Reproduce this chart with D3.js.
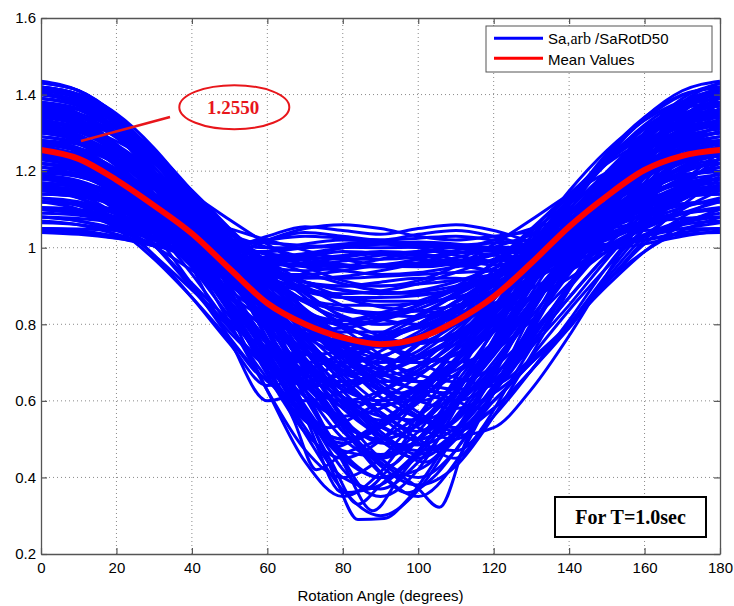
<!DOCTYPE html>
<html>
<head>
<meta charset="utf-8">
<script src="https://cdn.jsdelivr.net/npm/d3@7"></script>
<style>
  html, body { margin: 0; padding: 0; background: #ffffff; }
  svg { display: block; }
</style>
</head>
<body>
<svg id="chart" width="734" height="606"></svg>
<script>
// ---------------- DATA ----------------
const angles = [0,10,20,30,40,50,60,70,80,90,100,110,120,130,140,150,160,170,180];

// Sa,arb / SaRotD50 curves (values at the angles above)
const blueSeries = [
  [1.435,1.41,1.34,1.235,1.11,0.97,0.82,0.66,0.52,0.46,0.52,0.66,0.82,0.97,1.11,1.235,1.34,1.41,1.435],
  [1.42,1.398,1.335,1.24,1.12,0.985,0.845,0.705,0.595,0.55,0.595,0.705,0.845,0.985,1.12,1.24,1.335,1.398,1.42],
  [1.40,1.38,1.321,1.225,1.096,0.939,0.763,0.581,0.421,0.35,0.421,0.581,0.763,0.939,1.096,1.225,1.321,1.38,1.40],
  [1.38,1.363,1.313,1.232,1.125,0.999,0.864,0.735,0.637,0.60,0.637,0.735,0.864,0.999,1.125,1.232,1.313,1.363,1.38],
  [1.36,1.342,1.287,1.199,1.081,0.939,0.784,0.629,0.502,0.45,0.502,0.629,0.784,0.939,1.081,1.199,1.287,1.342,1.36],
  [1.36,1.335,1.265,1.155,1.01,0.842,0.668,0.518,0.45,0.497,0.604,0.738,0.877,1.01,1.128,1.225,1.298,1.344,1.36],
  [1.36,1.344,1.298,1.225,1.128,1.01,0.877,0.738,0.604,0.497,0.45,0.518,0.668,0.842,1.01,1.155,1.265,1.335,1.36],
  [1.33,1.315,1.269,1.197,1.101,0.989,0.871,0.762,0.68,0.65,0.68,0.762,0.871,0.989,1.101,1.197,1.269,1.315,1.33],
  [1.33,1.309,1.251,1.161,1.045,0.915,0.789,0.69,0.65,0.677,0.746,0.838,0.942,1.045,1.139,1.219,1.278,1.317,1.33],
  [1.33,1.317,1.278,1.219,1.139,1.045,0.942,0.838,0.746,0.677,0.65,0.69,0.789,0.915,1.045,1.161,1.251,1.309,1.33],
  [1.30,1.283,1.233,1.153,1.047,0.919,0.781,0.647,0.541,0.50,0.541,0.647,0.781,0.919,1.047,1.153,1.233,1.283,1.30],
  [1.30,1.277,1.213,1.113,0.983,0.833,0.681,0.554,0.50,0.537,0.626,0.741,0.864,0.983,1.089,1.177,1.243,1.285,1.30],
  [1.30,1.285,1.243,1.177,1.089,0.983,0.864,0.741,0.626,0.537,0.50,0.554,0.681,0.833,0.983,1.113,1.213,1.277,1.30],
  [1.27,1.258,1.221,1.162,1.086,0.998,0.908,0.828,0.771,0.75,0.771,0.828,0.908,0.998,1.086,1.162,1.221,1.258,1.27],
  [1.27,1.253,1.206,1.134,1.042,0.942,0.848,0.778,0.75,0.769,0.817,0.884,0.962,1.042,1.116,1.18,1.228,1.259,1.27],
  [1.27,1.259,1.228,1.18,1.116,1.042,0.962,0.884,0.817,0.769,0.75,0.778,0.848,0.942,1.042,1.134,1.206,1.253,1.27],
  [1.24,1.226,1.183,1.115,1.025,0.92,0.809,0.706,0.629,0.60,0.629,0.706,0.809,0.92,1.025,1.115,1.183,1.226,1.24],
  [1.24,1.221,1.166,1.081,0.973,0.851,0.732,0.639,0.60,0.626,0.691,0.778,0.876,0.973,1.061,1.135,1.192,1.227,1.24],
  [1.24,1.227,1.192,1.135,1.061,0.973,0.876,0.778,0.691,0.626,0.60,0.639,0.732,0.851,0.973,1.081,1.166,1.221,1.24],
  [1.24,1.214,1.144,1.038,0.904,0.765,0.651,0.60,0.624,0.678,0.752,0.839,0.929,1.016,1.091,1.152,1.198,1.229,1.24],
  [1.24,1.229,1.198,1.152,1.091,1.016,0.929,0.839,0.752,0.678,0.624,0.60,0.651,0.765,0.904,1.038,1.144,1.214,1.24],
  [1.20,1.19,1.16,1.114,1.053,0.985,0.917,0.857,0.815,0.80,0.815,0.857,0.917,0.985,1.053,1.114,1.16,1.19,1.20],
  [1.20,1.186,1.149,1.091,1.019,0.943,0.872,0.82,0.80,0.814,0.849,0.899,0.958,1.019,1.077,1.128,1.166,1.191,1.20],
  [1.20,1.191,1.166,1.128,1.077,1.019,0.958,0.899,0.849,0.814,0.80,0.82,0.872,0.943,1.019,1.091,1.149,1.186,1.20],
  [1.16,1.149,1.116,1.064,0.996,0.918,0.839,0.768,0.718,0.70,0.718,0.768,0.839,0.918,0.996,1.064,1.116,1.149,1.16],
  [1.16,1.145,1.103,1.039,0.957,0.869,0.786,0.724,0.70,0.716,0.758,0.818,0.886,0.957,1.023,1.08,1.123,1.15,1.16],
  [1.16,1.15,1.123,1.08,1.023,0.957,0.886,0.818,0.758,0.716,0.70,0.724,0.786,0.869,0.957,1.039,1.103,1.145,1.16],
  [1.16,1.14,1.086,1.006,0.907,0.809,0.732,0.70,0.715,0.75,0.80,0.86,0.925,0.989,1.046,1.093,1.128,1.151,1.16],
  [1.16,1.151,1.128,1.093,1.046,0.989,0.925,0.86,0.80,0.75,0.715,0.70,0.732,0.809,0.907,1.006,1.086,1.14,1.16],
  [1.12,1.114,1.095,1.065,1.028,0.986,0.946,0.911,0.888,0.88,0.888,0.911,0.946,0.986,1.028,1.065,1.095,1.114,1.12],
  [1.12,1.112,1.088,1.051,1.007,0.961,0.92,0.891,0.88,0.887,0.906,0.936,0.97,1.007,1.043,1.074,1.099,1.115,1.12],
  [1.12,1.115,1.099,1.074,1.043,1.007,0.97,0.936,0.906,0.887,0.88,0.891,0.92,0.961,1.007,1.051,1.088,1.112,1.12],
  [1.08,1.076,1.066,1.049,1.028,1.006,0.984,0.966,0.954,0.95,0.954,0.966,0.984,1.006,1.028,1.049,1.066,1.076,1.08],
  [1.42,1.40,1.341,1.246,1.118,0.963,0.79,0.614,0.465,0.40,0.465,0.614,0.79,0.963,1.118,1.246,1.341,1.40,1.42],
  [1.40,1.373,1.297,1.177,1.018,0.829,0.627,0.441,0.35,0.414,0.549,0.708,0.869,1.018,1.148,1.254,1.333,1.382,1.40],
  [1.40,1.382,1.333,1.254,1.148,1.018,0.869,0.708,0.549,0.414,0.35,0.441,0.627,0.829,1.018,1.177,1.297,1.373,1.40],
  [1.39,1.37,1.315,1.235,1.135,1.03,0.915,0.81,0.73,0.70,0.73,0.81,0.915,1.03,1.135,1.235,1.315,1.37,1.39],
  [1.35,1.333,1.29,1.225,1.14,1.05,0.96,0.88,0.822,0.80,0.822,0.88,0.96,1.05,1.14,1.225,1.29,1.333,1.35],
  [1.32,1.302,1.248,1.16,1.044,0.902,0.745,0.587,0.456,0.40,0.456,0.587,0.745,0.902,1.044,1.16,1.248,1.302,1.32],
  [1.32,1.295,1.226,1.117,0.973,0.804,0.627,0.472,0.40,0.45,0.561,0.698,0.839,0.973,1.09,1.186,1.259,1.304,1.32],
  [1.32,1.304,1.259,1.186,1.09,0.973,0.839,0.698,0.561,0.45,0.40,0.472,0.627,0.804,0.973,1.117,1.226,1.295,1.32],
  [1.28,1.27,1.242,1.196,1.139,1.073,1.009,0.952,0.914,0.90,0.914,0.952,1.009,1.073,1.139,1.196,1.242,1.27,1.28],
  [1.22,1.205,1.159,1.086,0.988,0.873,0.748,0.628,0.536,0.50,0.536,0.628,0.748,0.873,0.988,1.086,1.159,1.205,1.22],
  [1.22,1.199,1.141,1.049,0.931,0.795,0.658,0.548,0.50,0.532,0.61,0.712,0.823,0.931,1.027,1.108,1.168,1.207,1.22],
  [1.22,1.207,1.168,1.108,1.027,0.931,0.823,0.712,0.61,0.532,0.50,0.548,0.658,0.795,0.931,1.049,1.141,1.199,1.22],
  [1.14,1.135,1.119,1.096,1.066,1.033,1.001,0.974,0.956,0.95,0.956,0.974,1.001,1.033,1.066,1.096,1.119,1.135,1.14],
  [1.14,1.133,1.113,1.085,1.05,1.013,0.981,0.958,0.95,0.955,0.97,0.993,1.02,1.05,1.078,1.103,1.122,1.136,1.14],
  [1.14,1.136,1.122,1.103,1.078,1.05,1.02,0.993,0.97,0.955,0.95,0.958,0.981,1.013,1.05,1.085,1.113,1.133,1.14],
  [1.10,1.091,1.065,1.024,0.971,0.911,0.851,0.799,0.763,0.75,0.763,0.799,0.851,0.911,0.971,1.024,1.065,1.091,1.10],
  [1.10,1.088,1.055,1.004,0.941,0.874,0.812,0.768,0.75,0.762,0.792,0.835,0.887,0.941,0.992,1.036,1.07,1.092,1.10],
  [1.10,1.092,1.07,1.036,0.992,0.941,0.887,0.835,0.792,0.762,0.75,0.768,0.812,0.874,0.941,1.004,1.055,1.088,1.10],
  [1.26,1.242,1.188,1.101,0.984,0.842,0.681,0.515,0.367,0.30,0.367,0.515,0.681,0.842,0.984,1.101,1.188,1.242,1.26],
  [1.18,1.168,1.131,1.072,0.996,0.907,0.815,0.732,0.672,0.65,0.672,0.732,0.815,0.907,0.996,1.072,1.131,1.168,1.18],
  [1.18,1.163,1.116,1.044,0.952,0.85,0.753,0.68,0.65,0.67,0.72,0.79,0.87,0.952,1.026,1.09,1.138,1.169,1.18],
  [1.18,1.169,1.138,1.09,1.026,0.952,0.87,0.79,0.72,0.67,0.65,0.68,0.753,0.85,0.952,1.044,1.116,1.163,1.18],
  [1.18,1.157,1.097,1.007,0.894,0.779,0.689,0.65,0.668,0.71,0.769,0.84,0.915,0.988,1.051,1.104,1.144,1.17,1.18],
  [1.18,1.17,1.144,1.104,1.051,0.988,0.915,0.84,0.769,0.71,0.668,0.65,0.689,0.779,0.894,1.007,1.097,1.157,1.18],
  [1.05,1.049,1.045,1.038,1.029,1.02,1.012,1.006,1.001,1.00,1.001,1.006,1.012,1.02,1.029,1.038,1.045,1.049,1.05],
  [1.07,1.06,1.035,1.005,0.99,1.0,1.03,1.055,1.045,1.035,1.05,1.06,1.045,1.015,0.99,1.0,1.03,1.06,1.07],
  [1.05,1.045,1.03,1.01,0.995,1.0,1.02,1.04,1.03,1.02,1.035,1.045,1.03,1.005,0.99,1.0,1.02,1.04,1.05],
  [1.08,1.07,1.045,1.01,0.98,0.985,1.02,1.05,1.06,1.05,1.03,1.02,1.03,1.04,1.02,1.0,1.03,1.065,1.08],
  [1.04,1.035,1.025,1.01,1.0,1.005,1.02,1.03,1.025,1.02,1.025,1.03,1.02,1.005,0.995,1.005,1.02,1.035,1.04],
  [1.15,1.13,1.07,0.98,0.87,0.75,0.64,0.66,0.70,0.75,0.80,0.86,0.92,0.98,1.03,1.08,1.115,1.14,1.15],
  [1.15,1.14,1.115,1.08,1.03,0.98,0.92,0.86,0.80,0.75,0.70,0.66,0.64,0.75,0.87,0.98,1.07,1.13,1.15],
  [1.12,1.10,1.05,0.97,0.87,0.76,0.66,0.68,0.72,0.76,0.80,0.84,0.88,0.92,0.96,1.0,1.05,1.09,1.12],
  [1.15,1.13,1.09,1.04,0.98,0.91,0.84,0.76,0.67,0.59,0.53,0.50,0.60,0.70,0.80,0.92,1.03,1.10,1.15],
  [1.22,1.20,1.15,1.08,1.0,0.91,0.81,0.71,0.61,0.52,0.46,0.52,0.63,0.74,0.85,0.97,1.08,1.17,1.22],
  [1.18,1.165,1.13,1.08,1.02,0.95,0.88,0.80,0.72,0.65,0.60,0.58,0.62,0.70,0.80,0.91,1.02,1.11,1.18],
  [1.10,1.09,1.06,1.02,0.97,0.92,0.86,0.80,0.74,0.69,0.65,0.63,0.64,0.71,0.80,0.90,0.99,1.06,1.10],
  [1.08,1.07,1.05,1.02,0.98,0.93,0.87,0.80,0.72,0.64,0.57,0.52,0.58,0.68,0.79,0.91,0.99,1.045,1.08],
  [1.13,1.12,1.09,1.05,1.0,0.94,0.87,0.79,0.71,0.63,0.56,0.53,0.60,0.70,0.80,0.91,1.01,1.08,1.13],
  [1.25,1.235,1.19,1.12,1.04,0.95,0.85,0.75,0.65,0.56,0.49,0.47,0.56,0.68,0.81,0.95,1.07,1.17,1.25]
];

// curves with a broad plateau around 90 degrees
const plateauSeries = [
  [1.35,1.33,1.27,1.17,1.06,0.99,0.96,0.95,0.94,0.93,0.935,0.95,0.965,0.99,1.06,1.17,1.27,1.33,1.35],
  [1.31,1.29,1.23,1.14,1.04,0.97,0.93,0.91,0.89,0.88,0.885,0.90,0.93,0.98,1.05,1.15,1.235,1.29,1.31],
  [1.28,1.26,1.20,1.11,1.02,0.97,0.96,0.97,0.98,0.99,0.985,0.97,0.955,0.97,1.03,1.12,1.205,1.26,1.28],
  [1.25,1.235,1.19,1.12,1.04,0.98,0.95,0.94,0.95,0.97,0.99,1.0,0.99,0.99,1.04,1.12,1.19,1.235,1.25],
  [1.22,1.205,1.16,1.09,1.02,0.96,0.92,0.90,0.90,0.91,0.92,0.92,0.91,0.93,0.99,1.08,1.155,1.205,1.22],
  [1.19,1.175,1.135,1.07,1.00,0.95,0.93,0.93,0.94,0.955,0.96,0.955,0.94,0.94,0.98,1.05,1.125,1.175,1.19],
  [1.15,1.14,1.11,1.06,1.01,0.98,0.97,0.98,1.0,1.01,1.0,0.98,0.965,0.97,1.0,1.05,1.10,1.14,1.15],
  [1.12,1.11,1.08,1.04,1.0,0.98,0.99,1.01,1.02,1.015,1.005,1.0,1.0,1.005,1.02,1.05,1.085,1.11,1.12],
  [1.30,1.285,1.235,1.155,1.06,0.97,0.90,0.86,0.84,0.83,0.835,0.85,0.88,0.94,1.03,1.14,1.23,1.28,1.30],
  [1.34,1.32,1.26,1.165,1.06,0.96,0.88,0.83,0.81,0.82,0.85,0.89,0.93,0.98,1.06,1.16,1.26,1.32,1.34],
  [1.37,1.35,1.29,1.19,1.07,0.95,0.86,0.80,0.78,0.78,0.79,0.82,0.87,0.96,1.07,1.19,1.29,1.35,1.37],
  [1.26,1.245,1.195,1.115,1.02,0.93,0.86,0.82,0.81,0.83,0.86,0.895,0.93,0.97,1.03,1.11,1.19,1.245,1.26],
  [1.10,1.095,1.075,1.045,1.01,0.98,0.96,0.955,0.965,0.98,0.99,0.99,0.98,0.975,0.99,1.02,1.06,1.09,1.10],
  [1.17,1.16,1.12,1.07,1.01,0.96,0.93,0.92,0.925,0.94,0.96,0.985,1.0,1.0,1.01,1.05,1.11,1.155,1.17],
  [1.23,1.21,1.16,1.09,1.02,0.97,0.955,0.96,0.975,0.985,0.98,0.96,0.94,0.935,0.98,1.06,1.15,1.21,1.23],
  [1.33,1.31,1.255,1.165,1.06,0.97,0.915,0.885,0.87,0.87,0.875,0.89,0.92,0.965,1.04,1.15,1.25,1.31,1.33]
];

const extraSeries = [
  [1.43,1.41,1.345,1.245,1.12,0.98,0.84,0.71,0.61,0.56,0.55,0.59,0.69,0.83,0.99,1.14,1.27,1.38,1.43],
  [1.415,1.395,1.33,1.23,1.11,0.98,0.86,0.75,0.68,0.665,0.69,0.75,0.84,0.95,1.07,1.19,1.30,1.38,1.415],
  [1.405,1.38,1.31,1.20,1.06,0.89,0.71,0.55,0.49,0.53,0.60,0.69,0.80,0.92,1.05,1.17,1.28,1.36,1.405],
  [1.39,1.37,1.31,1.22,1.115,1.0,0.89,0.80,0.75,0.74,0.75,0.80,0.89,1.0,1.115,1.22,1.31,1.37,1.39],
  [1.375,1.36,1.31,1.23,1.12,0.99,0.84,0.68,0.54,0.43,0.38,0.43,0.56,0.72,0.89,1.05,1.19,1.31,1.375],
  [1.365,1.35,1.31,1.24,1.15,1.05,0.94,0.83,0.73,0.66,0.63,0.62,0.67,0.77,0.90,1.04,1.17,1.29,1.365],
  [1.345,1.325,1.265,1.17,1.065,0.97,0.90,0.865,0.85,0.85,0.855,0.87,0.905,0.975,1.07,1.17,1.265,1.325,1.345],
  [1.335,1.31,1.245,1.14,1.01,0.86,0.72,0.61,0.56,0.58,0.63,0.71,0.81,0.92,1.03,1.14,1.235,1.30,1.335],
  [1.315,1.295,1.235,1.14,1.02,0.88,0.73,0.58,0.47,0.455,0.50,0.60,0.73,0.86,0.99,1.11,1.21,1.28,1.315],
  [1.305,1.29,1.245,1.17,1.08,0.98,0.88,0.80,0.74,0.71,0.70,0.72,0.78,0.87,0.98,1.09,1.19,1.265,1.305],
  [1.29,1.27,1.215,1.13,1.04,0.975,0.94,0.925,0.92,0.925,0.93,0.935,0.94,0.965,1.03,1.12,1.21,1.27,1.29],
  [1.275,1.255,1.20,1.11,0.99,0.85,0.70,0.56,0.45,0.40,0.42,0.50,0.62,0.76,0.90,1.03,1.14,1.23,1.275],
  [1.265,1.24,1.175,1.075,0.95,0.82,0.70,0.64,0.64,0.67,0.71,0.77,0.84,0.92,1.0,1.08,1.16,1.23,1.265],
  [1.25,1.235,1.195,1.13,1.06,0.99,0.935,0.895,0.87,0.86,0.86,0.87,0.90,0.95,1.01,1.08,1.15,1.21,1.25],
  [1.235,1.225,1.19,1.14,1.07,0.99,0.90,0.80,0.70,0.61,0.555,0.53,0.58,0.68,0.80,0.93,1.05,1.16,1.235],
  [1.21,1.19,1.14,1.065,0.98,0.89,0.82,0.775,0.76,0.77,0.80,0.845,0.90,0.96,1.02,1.08,1.135,1.18,1.21],
  [1.195,1.185,1.155,1.11,1.055,1.01,0.985,0.975,0.97,0.97,0.975,0.985,0.995,1.005,1.025,1.06,1.11,1.16,1.195],
  [1.17,1.155,1.11,1.04,0.95,0.85,0.75,0.67,0.61,0.59,0.61,0.67,0.75,0.85,0.95,1.04,1.11,1.155,1.17],
  [1.165,1.16,1.14,1.11,1.07,1.02,0.965,0.91,0.87,0.845,0.835,0.83,0.84,0.87,0.92,0.99,1.06,1.125,1.165],
  [1.13,1.11,1.06,0.98,0.89,0.80,0.74,0.72,0.73,0.76,0.80,0.845,0.89,0.935,0.98,1.025,1.07,1.105,1.13],
  [1.105,1.10,1.08,1.05,1.01,0.97,0.935,0.91,0.90,0.90,0.905,0.915,0.93,0.955,0.99,1.03,1.065,1.09,1.105],
  [1.09,1.085,1.065,1.03,0.99,0.945,0.90,0.86,0.835,0.825,0.82,0.83,0.855,0.895,0.94,0.99,1.035,1.07,1.09],
  [1.065,1.06,1.045,1.025,1.005,0.99,0.99,1.0,1.01,1.015,1.01,1.0,0.99,0.985,0.995,1.01,1.03,1.05,1.065],
  [1.045,1.04,1.025,1.005,0.985,0.975,0.975,0.985,1.0,1.01,1.015,1.01,1.0,0.99,0.985,0.995,1.01,1.03,1.045],
  [1.42,1.40,1.335,1.235,1.10,0.94,0.76,0.56,0.36,0.38,0.47,0.60,0.75,0.90,1.05,1.18,1.29,1.37,1.42],
  [1.40,1.38,1.325,1.245,1.145,1.04,0.93,0.82,0.72,0.63,0.56,0.51,0.53,0.63,0.77,0.93,1.09,1.26,1.40],
  [1.38,1.35,1.26,1.12,0.95,0.76,0.60,0.63,0.68,0.73,0.78,0.84,0.90,0.97,1.04,1.12,1.22,1.31,1.38],
  [1.355,1.335,1.27,1.17,1.06,0.99,0.96,0.955,0.95,0.95,0.955,0.96,0.965,0.99,1.06,1.17,1.27,1.335,1.355],
  [1.325,1.31,1.265,1.19,1.09,0.97,0.84,0.71,0.59,0.51,0.47,0.51,0.62,0.76,0.90,1.04,1.16,1.26,1.325],
  [1.245,1.225,1.17,1.08,0.97,0.83,0.68,0.53,0.40,0.37,0.44,0.56,0.69,0.82,0.94,1.05,1.14,1.21,1.245],
  [1.185,1.17,1.125,1.055,0.965,0.86,0.75,0.64,0.55,0.49,0.485,0.53,0.63,0.75,0.87,0.98,1.07,1.14,1.185],
  [1.28,1.26,1.20,1.11,1.005,0.905,0.825,0.785,0.79,0.81,0.84,0.88,0.93,0.99,1.05,1.12,1.19,1.245,1.28],
  [1.30,1.28,1.22,1.13,1.045,1.01,1.0,1.0,1.005,1.01,1.01,1.005,1.0,1.005,1.04,1.12,1.21,1.275,1.30],
  [1.23,1.215,1.17,1.10,1.01,0.91,0.81,0.73,0.69,0.685,0.71,0.76,0.83,0.91,0.99,1.07,1.14,1.195,1.23],
  [1.155,1.145,1.115,1.07,1.02,0.98,0.965,0.975,0.99,0.985,0.97,0.96,0.965,0.985,1.01,1.05,1.09,1.13,1.155]
];

// curves with sharp minima: [angle, value] pairs
const notchCurves = [
  [[0,1.42],[10,1.40],[20,1.34],[30,1.24],[40,1.11],[50,0.96],[60,0.78],[70,0.58],[78,0.40],[84,0.29],[91,0.293],[97,0.34],[105,0.45],[115,0.60],[125,0.76],[135,0.92],[145,1.07],[155,1.20],[165,1.31],[175,1.39],[180,1.42]],
  [[0,1.40],[10,1.385],[20,1.33],[30,1.24],[40,1.12],[50,0.98],[60,0.81],[70,0.63],[80,0.44],[88,0.313],[95,0.40],[105,0.53],[115,0.67],[125,0.82],[135,0.97],[145,1.11],[155,1.23],[165,1.33],[175,1.39],[180,1.40]],
  [[0,1.41],[10,1.40],[20,1.35],[30,1.26],[40,1.14],[50,1.0],[60,0.84],[70,0.68],[80,0.54],[90,0.44],[99.5,0.376],[105.6,0.322],[112.8,0.498],[120,0.62],[130,0.78],[140,0.95],[150,1.11],[160,1.25],[170,1.36],[180,1.41]],
  [[0,1.38],[10,1.36],[20,1.30],[30,1.20],[40,1.06],[50,0.89],[60,0.70],[67,0.55],[73,0.42],[80,0.46],[90,0.50],[100,0.56],[110,0.64],[120,0.74],[130,0.86],[140,0.99],[150,1.12],[160,1.24],[170,1.34],[180,1.38]],
  [[0,1.39],[10,1.375],[20,1.325],[30,1.24],[40,1.13],[50,0.99],[60,0.84],[70,0.68],[80,0.53],[90,0.41],[97,0.36],[104,0.40],[112,0.50],[120,0.62],[130,0.79],[140,0.96],[150,1.11],[160,1.24],[170,1.34],[180,1.39]],
  [[0,1.37],[10,1.35],[20,1.29],[30,1.19],[40,1.05],[50,0.89],[60,0.72],[70,0.57],[78,0.48],[86,0.52],[95,0.58],[105,0.66],[115,0.75],[125,0.86],[135,0.98],[145,1.10],[155,1.21],[165,1.30],[175,1.36],[180,1.37]],
  [[0,1.33],[10,1.315],[20,1.265],[30,1.18],[40,1.07],[50,0.94],[60,0.80],[70,0.66],[80,0.54],[92,0.43],[100,0.50],[110,0.60],[120,0.72],[130,0.85],[140,0.98],[150,1.10],[160,1.21],[170,1.29],[180,1.33]],
  [[0,1.29],[10,1.275],[20,1.23],[30,1.16],[40,1.07],[50,0.97],[60,0.86],[70,0.75],[80,0.65],[90,0.57],[100,0.52],[108,0.58],[116,0.67],[125,0.78],[135,0.91],[145,1.04],[155,1.15],[165,1.23],[175,1.28],[180,1.29]],
  [[0,1.25],[10,1.235],[20,1.185],[30,1.105],[40,1.0],[50,0.88],[60,0.76],[70,0.66],[82,0.58],[90,0.62],[100,0.68],[110,0.75],[120,0.83],[130,0.92],[140,1.01],[150,1.09],[160,1.165],[170,1.225],[180,1.25]],
  [[0,1.21],[10,1.20],[20,1.16],[30,1.10],[40,1.02],[50,0.93],[60,0.84],[70,0.75],[80,0.68],[88,0.64],[95,0.62],[103,0.66],[112,0.72],[122,0.80],[132,0.89],[142,0.98],[152,1.07],[162,1.14],[172,1.19],[180,1.21]],
  [[0,1.43],[10,1.41],[20,1.345],[30,1.24],[40,1.11],[50,0.96],[60,0.79],[70,0.61],[80,0.45],[86,0.37],[92,0.42],[100,0.50],[110,0.62],[120,0.76],[130,0.91],[140,1.05],[150,1.18],[160,1.30],[170,1.39],[180,1.43]],
  [[0,1.40],[10,1.385],[20,1.335],[30,1.25],[40,1.14],[50,1.01],[60,0.87],[70,0.73],[80,0.61],[90,0.51],[102,0.44],[110,0.52],[120,0.64],[130,0.79],[140,0.94],[150,1.08],[160,1.22],[170,1.34],[180,1.40]],
  [[0,1.27],[10,1.25],[20,1.19],[30,1.10],[40,0.98],[50,0.84],[60,0.70],[68,0.60],[76,0.53],[85,0.57],[95,0.63],[105,0.70],[115,0.78],[125,0.87],[135,0.96],[145,1.05],[155,1.13],[165,1.20],[175,1.26],[180,1.27]],
  [[0,1.35],[10,1.34],[20,1.30],[30,1.23],[40,1.13],[50,1.02],[60,0.89],[70,0.77],[80,0.66],[90,0.57],[100,0.50],[110,0.45],[117,0.53],[125,0.66],[135,0.82],[145,0.98],[155,1.12],[165,1.24],[175,1.32],[180,1.35]],
  [[0,1.18],[10,1.16],[20,1.10],[30,1.01],[40,0.90],[50,0.79],[58,0.71],[65,0.66],[75,0.70],[85,0.75],[95,0.80],[105,0.85],[115,0.90],[125,0.95],[135,1.0],[145,1.05],[155,1.10],[165,1.14],[175,1.17],[180,1.18]],
  [[0,1.20],[10,1.195],[20,1.17],[30,1.13],[40,1.08],[50,1.02],[60,0.95],[70,0.87],[80,0.79],[90,0.72],[100,0.65],[110,0.60],[116,0.58],[124,0.64],[132,0.74],[142,0.86],[152,0.97],[162,1.07],[172,1.15],[180,1.20]],
  [[0,1.41],[10,1.39],[20,1.33],[30,1.23],[40,1.10],[50,0.94],[60,0.76],[70,0.57],[77,0.44],[84,0.33],[90,0.38],[98,0.45],[108,0.56],[118,0.70],[128,0.85],[138,1.0],[148,1.13],[158,1.25],[168,1.35],[180,1.41]],
  [[0,1.36],[10,1.345],[20,1.295],[30,1.21],[40,1.10],[50,0.97],[60,0.83],[70,0.69],[80,0.58],[88,0.52],[96,0.48],[104,0.53],[113,0.62],[123,0.74],[133,0.88],[143,1.02],[153,1.15],[163,1.26],[173,1.33],[180,1.36]]
];

// Mean values (red)
const meanValues = [1.255,1.232,1.177,1.11,1.037,0.945,0.855,0.80,0.765,0.748,0.763,0.808,0.872,0.96,1.055,1.135,1.203,1.24,1.255];

const xTicks = [0,20,40,60,80,100,120,140,160,180];
const yTicks = [0.2,0.4,0.6,0.8,1.0,1.2,1.4,1.6];
const yTickLabels = ["0.2","0.4","0.6","0.8","1","1.2","1.4","1.6"];
const xLabel = "Rotation Angle (degrees)";
const legendLabels = ["Sa,arb /SaRotD50", "Mean Values"];
const annotationText = "1.2550";
const periodText = "For T=1.0sec";

// ---------------- DRAW ----------------
const W = 734, H = 606;
const margin = {top: 18, right: 14, bottom: 52, left: 41};
const svg = d3.select("#chart");
const x = d3.scaleLinear().domain([0, 180]).range([margin.left, W - margin.right]);
const y = d3.scaleLinear().domain([0.2, 1.6]).range([H - margin.bottom, margin.top]);

const sans = "'Liberation Sans', Arial, Helvetica, sans-serif";
const serif = "'Liberation Serif', 'Times New Roman', Times, serif";

svg.append("rect").attr("width", W).attr("height", H).attr("fill", "#ffffff");

// grid
const grid = svg.append("g");
grid.selectAll("line.gx").data(xTicks.slice(1, -1)).join("line")
  .attr("x1", d => x(d)).attr("x2", d => x(d))
  .attr("y1", y(0.2)).attr("y2", y(1.6))
  .attr("stroke", "#8a8a8a").attr("stroke-width", 1).attr("stroke-dasharray", "1,3");
grid.selectAll("line.gy").data(yTicks.slice(1, -1)).join("line")
  .attr("x1", x(0)).attr("x2", x(180))
  .attr("y1", d => y(d)).attr("y2", d => y(d))
  .attr("stroke", "#8a8a8a").attr("stroke-width", 1).attr("stroke-dasharray", "1,3");

// clip
svg.append("clipPath").attr("id", "plotclip").append("rect")
  .attr("x", x(0)).attr("y", y(1.6)).attr("width", x(180) - x(0)).attr("height", y(0.2) - y(1.6));

const line = d3.line().x(d => x(d[0])).y(d => y(d[1])).curve(d3.curveMonotoneX);
const dataG = svg.append("g").attr("clip-path", "url(#plotclip)");

const gridCurves = blueSeries.concat(plateauSeries, extraSeries).map(vals => angles.map((a, i) => [a, vals[i]]));
const allBlue = gridCurves.concat(notchCurves);

dataG.selectAll("path.blue").data(allBlue).join("path")
  .attr("class", "blue")
  .attr("d", pts => line(pts))
  .attr("fill", "none").attr("stroke", "#0000ff").attr("stroke-width", 3)
  .attr("stroke-linejoin", "round");

dataG.append("path")
  .attr("d", line(angles.map((a, i) => [a, meanValues[i]])))
  .attr("fill", "none").attr("stroke", "#ff0000").attr("stroke-width", 6)
  .attr("stroke-linecap", "round");

// axes
const axisColor = "#555555";
const xAxis = d3.axisBottom(x).tickValues(xTicks).tickSizeInner(-6).tickSizeOuter(0).tickPadding(8).tickFormat(d3.format("d"));
const yAxis = d3.axisLeft(y).tickValues(yTicks).tickSizeInner(-6).tickSizeOuter(0).tickPadding(5).tickFormat((d, i) => yTickLabels[i]);
const xTop = d3.axisTop(x).tickValues(xTicks).tickSizeInner(-6).tickSizeOuter(0).tickFormat("");
const yRight = d3.axisRight(y).tickValues(yTicks).tickSizeInner(-6).tickSizeOuter(0).tickFormat("");

function styleAxis(g) {
  g.selectAll("path.domain").attr("stroke", axisColor).attr("stroke-width", 1.3);
  g.selectAll(".tick line").attr("stroke", axisColor).attr("stroke-width", 1.2);
  g.selectAll(".tick text").attr("fill", "#000").style("font-family", sans).style("font-size", "15px");
}
svg.append("g").attr("transform", `translate(0,${y(0.2)})`).call(xAxis).call(styleAxis);
svg.append("g").attr("transform", `translate(${x(0)},0)`).call(yAxis).call(styleAxis);
svg.append("g").attr("transform", `translate(0,${y(1.6)})`).call(xTop).call(styleAxis);
svg.append("g").attr("transform", `translate(${x(180)},0)`).call(yRight).call(styleAxis);

// x label
svg.append("text").attr("x", (x(0) + x(180)) / 2).attr("y", 601)
  .attr("text-anchor", "middle").style("font-family", sans).style("font-size", "15px")
  .attr("fill", "#000").text(xLabel);

// legend
const lg = svg.append("g");
lg.append("rect").attr("x", 486).attr("y", 26).attr("width", 226).attr("height", 46)
  .attr("fill", "#fff").attr("stroke", axisColor).attr("stroke-width", 1);
lg.append("line").attr("x1", 494).attr("x2", 543).attr("y1", 38.3).attr("y2", 38.3)
  .attr("stroke", "#0000ff").attr("stroke-width", 3);
lg.append("line").attr("x1", 494).attr("x2", 543).attr("y1", 58.3).attr("y2", 58.3)
  .attr("stroke", "#ff0000").attr("stroke-width", 3);
const lt1 = lg.append("text").attr("x", 548).attr("y", 44).style("font-size", "15px").attr("fill", "#000");
const parts = legendLabels[0].match(/^(Sa,)(arb)(.*)$/);
lt1.append("tspan").style("font-family", sans).text(parts[1]);
lt1.append("tspan").style("font-family", serif).style("font-size", "16px").text(parts[2]);
lt1.append("tspan").style("font-family", sans).text(parts[3]);
lg.append("text").attr("x", 548).attr("y", 65).style("font-family", sans).style("font-size", "15px")
  .attr("fill", "#000").text(legendLabels[1]);

// annotation
const annColor = "#e8161b";
svg.append("line").attr("x1", 81).attr("y1", 141).attr("x2", 170).attr("y2", 117)
  .attr("stroke", annColor).attr("stroke-width", 2.5);
svg.append("ellipse").attr("cx", 234.3).attr("cy", 107.2).attr("rx", 55).attr("ry", 22)
  .attr("fill", "none").attr("stroke", annColor).attr("stroke-width", 2);
svg.append("text").attr("x", 233).attr("y", 113.5).attr("text-anchor", "middle")
  .style("font-family", serif).style("font-weight", "bold").style("font-size", "19px")
  .attr("fill", annColor).text(annotationText);

// period box
svg.append("rect").attr("x", 555).attr("y", 497).attr("width", 151).attr("height", 40)
  .attr("fill", "#fff").attr("stroke", "#000").attr("stroke-width", 2);
svg.append("text").attr("x", 630.5).attr("y", 524).attr("text-anchor", "middle")
  .style("font-family", serif).style("font-weight", "bold").style("font-size", "20px")
  .attr("fill", "#000").text(periodText);
</script>
</body>
</html>
